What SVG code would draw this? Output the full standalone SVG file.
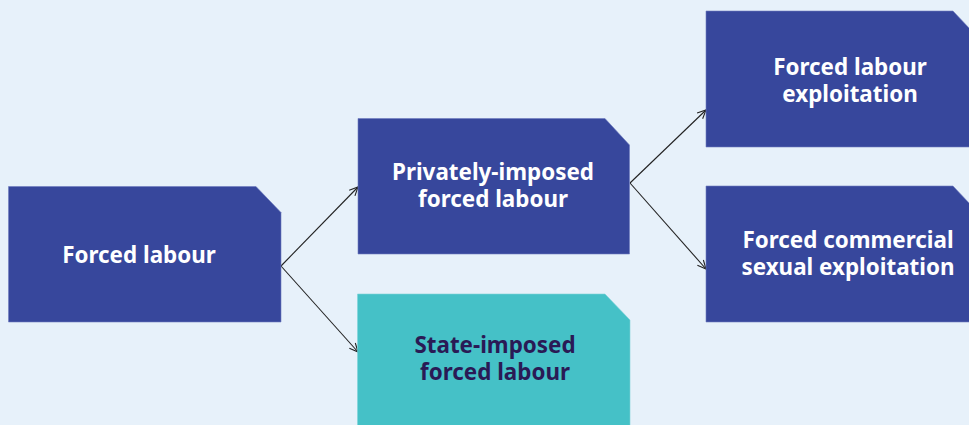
<svg xmlns="http://www.w3.org/2000/svg" width="969" height="425" viewBox="0 0 969 425">
  <defs>
    <style>
      .bg { fill: #e7f1fa; }
      .box { fill: #37479c; stroke: #6f7cc0; stroke-width: 0.6; }
      .box-teal { fill: #45c1c7; stroke: #7fd3d8; stroke-width: 0.6; }
      .label { font-family: "Noto Sans", "Open Sans", sans-serif; font-weight: 700; font-size: 22.4px; text-anchor: middle; fill: #ffffff; }
      .label-dark { fill: #2a1a55; }
      .edge { fill: none; stroke: #222222; stroke-width: 1.1; marker-end: url(#arrow); }
    </style>
    <marker id="arrow" viewBox="0 0 10 10" refX="9.5" refY="5" markerWidth="10" markerHeight="10" markerUnits="userSpaceOnUse" orient="auto">
      <path d="M1,1 L9.5,5 L1,9" fill="none" stroke="#222222" stroke-width="1.1"/>
    </marker>
  </defs>

  <rect class="bg" x="0" y="0" width="969" height="425"/>

  <g id="connectors">
    <line class="edge" x1="281" y1="266" x2="358" y2="187"/>
    <line class="edge" x1="281" y1="266" x2="358" y2="352"/>
    <line class="edge" x1="630" y1="183" x2="706" y2="110"/>
    <line class="edge" x1="630" y1="183" x2="706" y2="269"/>
  </g>

  <g id="forced-labour">
    <path class="box" d="M8.5,186.5 H256 L281,212.5 V322 H8.5 Z"/>
    <text class="label" x="139" y="262.5">Forced labour</text>
  </g>

  <g id="privately-imposed">
    <path class="box" d="M358,118.5 H605 L629.5,145 V254 H358 Z"/>
    <text class="label" x="493" y="180">Privately-imposed</text>
    <text class="label" x="493" y="207">forced labour</text>
  </g>

  <g id="state-imposed">
    <path class="box-teal" d="M357.5,294 H605 L630,320 V426 H357.5 Z"/>
    <text class="label label-dark" x="495" y="353">State-imposed</text>
    <text class="label label-dark" x="495" y="380">forced labour</text>
  </g>

  <g id="labour-exploitation">
    <path class="box" d="M706,11 H953 L970,29 V147 H706 Z"/>
    <text class="label" x="850" y="75">Forced labour</text>
    <text class="label" x="850" y="102">exploitation</text>
  </g>

  <g id="sexual-exploitation">
    <path class="box" d="M706,186 H953 L970,204 V322 H706 Z"/>
    <text class="label" x="848" y="248">Forced commercial</text>
    <text class="label" x="848" y="275">sexual exploitation</text>
  </g>
</svg>
